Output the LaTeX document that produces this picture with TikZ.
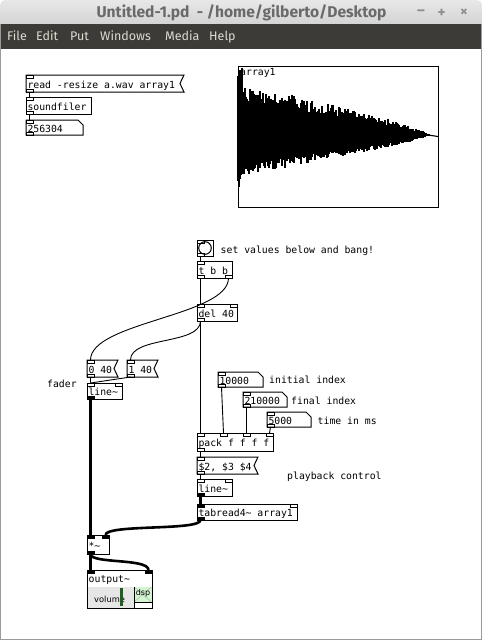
\documentclass[tikz,border=0pt]{standalone}
\usepackage{fontspec}
\setmonofont{DejaVu Sans Mono}
\newfontfamily\uifont{Fira Sans}
\newfontfamily\guifont{DejaVu Sans}
\usetikzlibrary{scopes}

\definecolor{titletop}{HTML}{E8E8E8}
\definecolor{titlebot}{HTML}{D4D4D4}
\definecolor{titletext}{HTML}{6A6A6A}
\definecolor{winctl}{HTML}{8E8E8E}
\definecolor{menubar}{HTML}{3C3B37}
\definecolor{menutext}{HTML}{DFDBD2}
\definecolor{winborder}{HTML}{9A9A9A}
\definecolor{volbg}{HTML}{E6E6E6}
\definecolor{volbar}{HTML}{1F5F1F}
\definecolor{dspbg}{HTML}{D4F4D4}
\definecolor{dspx}{HTML}{A8CCA8}

\newcommand\pdfont{\ttfamily\fontsize{9.8}{11}\selectfont}

\tikzset{
  pdobj/.style={rectangle, anchor=north west, inner xsep=1.5pt, inner ysep=0pt,
    outer sep=0pt, minimum height=17pt, text height=9pt, text depth=0pt,
    align=left, font=\pdfont,
    execute at begin node={\spaceskip=0pt\xspaceskip=0pt\relax}},
  pdbox/.style={pdobj, draw, line width=1pt},
  pdatom/.style={pdobj, minimum height=15pt},
  outline/.style={line width=1pt, line join=miter},
  port/.style={draw, line width=.8pt},
  sigport/.style={draw, fill=black, line width=.8pt},
  cord/.style={line width=.9pt},
  sigcord/.style={line width=2.6pt},
  comment/.style={anchor=base west, inner sep=0pt, font=\pdfont},
  menuitem/.style={anchor=base west, inner sep=0pt, text=menutext,
    font=\uifont\fontsize{12.5}{14}\selectfont},
  wave/.style={line width=1.1pt},
}

% message box and number box outlines
\newcommand\msgflag[1]{\draw[outline] (#1.north west) -- ([xshift=4pt]#1.north east)
  -- (#1.east) -- ([xshift=4pt]#1.south east) -- (#1.south west) -- cycle;}
\newcommand\atomflag[1]{\draw[outline] (#1.north west) -- ([xshift=-5pt]#1.north east)
  -- ([yshift=-5pt]#1.north east) -- (#1.south east) -- (#1.south west) -- cycle;}

% inlets and outlets
\newcommand\inL[2][port]{\draw[#1] (#2.north west) rectangle ++(7,3);}
\newcommand\inR[2][port]{\draw[#1] (#2.north east) rectangle ++(-7,3);}
\newcommand\outL[2][port]{\draw[#1] (#2.south west) rectangle ++(7,-3);}
\newcommand\outR[2][port]{\draw[#1] (#2.south east) rectangle ++(-7,-3);}

\begin{document}
\begin{tikzpicture}[x=1pt,y=-1pt]
\useasboundingbox (0,0) rectangle (482,640);

% window
\fill[white] (0,24) rectangle (482,640);
\shade[top color=titletop, bottom color=titlebot]
  (0,24) {[rounded corners=5pt] -- (0,0) -- (482,0)} -- (482,24) -- cycle;
\fill[menubar] (0,24) rectangle (482,49);
\draw[winborder, line width=1.2pt] (0.6,24) -- (0.6,639.4) -- (481.4,639.4) -- (481.4,24);

\node[anchor=base, inner sep=0pt, text=titletext,
  font=\uifont\bfseries\fontsize{15.6}{17}\selectfont] (title) at (241.5,17.7)
  {Untitled-1.pd\ \ - /home/gilberto/Desktop};
{ [inner sep=0pt, text=winctl, font=\uifont\bfseries\fontsize{15}{16}\selectfont]
  \node (wmin) at (421,13) {–};
  \node (wmax) at (441.5,13) {+};
  \node (wclose) at (464,13) {×};
}
{ [menuitem]
  \node (mfile) at (7,40.5) {File};
  \node (medit) at (36,40.5) {Edit};
  \node (mput) at (70,40.5) {Put};
  \node (mwin) at (100,40.5) {Windows};
  \node (mmedia) at (165,40.5) {Media};
  \node (mhelp) at (209,40.5) {Help};
}

% soundfile loading
\node[pdobj, text width=151pt] (readmsg) at (26,75) {read -resize a.wav array1};
\node[pdbox, text width=62pt] (sfiler) at (26,97) {soundfiler};
\node[pdatom, text width=54pt] (sfout) at (26,120) {256304};
\msgflag{readmsg}
\atomflag{sfout}

% array
\node[draw, line width=1pt, rectangle, anchor=north west, outer sep=0pt,
  minimum width=200pt, minimum height=141pt] (arr) at (238,66) {};
\pgfmathsetseed{42}
\foreach \x in {238,...,429} {
  \pgfmathsetmacro\up{(42+14*(\x<243))*(1-(\x-238)/192)^0.8*(1+0.25*rand)}
  \pgfmathsetmacro\dn{(34+18*(\x<241))*(1-(\x-238)/192)^0.8*(1+0.2*rand)}
  \draw[wave] (\x,135-\up) -- (\x,135+\dn);
}
\draw[wave] (428,135) -- (arr.east);
\node[comment] (arrlbl) at (240,75.5) {array1};

% trigger part
\node[pdbox, minimum width=16pt, minimum height=16pt] (bng) at (197,240) {};
\draw[line width=1pt] (bng.center) circle[radius=6.3pt];
\node[pdbox, text width=32pt] (tbb) at (197,261) {t b b};
\node[pdbox, text width=37pt] (del) at (197,304) {del 40};
\node[comment] (cbang) at (220.5,253) {set values below and bang!};

% fader
\node[pdobj, text width=24pt] (msgzero) at (87,360) {0 40};
\node[pdobj, text width=24pt] (msgone) at (127,360) {1 40};
\node[pdbox, text width=32pt, minimum height=16pt] (linel) at (87,383) {line\textasciitilde};
\msgflag{msgzero}
\msgflag{msgone}
\node[comment] (cfader) at (47,387) {fader};

% playback
\node[pdatom, text width=42pt] (numinit) at (218,372) {10000};
\node[pdatom, text width=41pt] (numfinal) at (243,392) {210000};
\node[pdatom, text width=41pt] (numtime) at (267,412) {5000};
\atomflag{numinit}
\atomflag{numfinal}
\atomflag{numtime}
\node[comment] (cinit) at (269,383) {initial index};
\node[comment] (cfinal) at (291,404) {final index};
\node[comment] (ctime) at (317.5,424) {time in ms};

\node[pdbox, text width=73pt, minimum height=18pt] (pack) at (197,433) {pack f f f f};
\node[pdobj, text width=54pt] (msgramp) at (197,457) {\$2, \$3 \$4};
\msgflag{msgramp}
\node[pdbox, text width=32pt] (liner) at (197,479) {line\textasciitilde};
\node[pdbox, text width=97pt, minimum height=16pt] (tabrd) at (197,504) {tabread4\textasciitilde{} array1};
\node[comment] (cplay) at (287,479) {playback control};

% output
\node[pdbox, text width=19pt, minimum height=19pt] (mult) at (87,535) {*\textasciitilde};
\node[pdbox, minimum width=65pt, minimum height=38pt] (output) at (87,570) {};
\fill[volbg] (87.5,587) rectangle (134,607.5);
\node[anchor=base west, inner sep=0pt, font=\guifont\fontsize{8.3}{9}\selectfont]
  (volume) at (94,602) {volume};
\fill[volbar] (120,588) rectangle (123,606);
\fill[dspbg] (134,587) rectangle (151.5,602);
\draw[dspx, line width=.6pt] (134,587) -- (151.5,602) (134,602) -- (151.5,587);
\node[inner sep=0pt, font=\guifont\fontsize{8}{9}\selectfont] (dsp) at (143,593.5) {dsp};
\draw[line width=1pt] (134,587) -- (134,608) (134,602) -- (152,602);
\node[comment] (outlbl) at (88.5,582) {output\textasciitilde};

% inlets / outlets
\inL{readmsg} \outL{readmsg}
\inL{sfiler} \outL{sfiler}
\inL{sfout} \outL{sfout}
\inL{bng} \outL{bng}
\inL{tbb} \outL{tbb} \outR{tbb}
\inL{del} \inR{del} \outL{del}
\inL{msgzero} \outL{msgzero}
\inL{msgone} \outL{msgone}
\inL{linel} \inR{linel} \outL[sigport]{linel}
\inL{numinit} \outL{numinit}
\inL{numfinal} \outL{numfinal}
\inL{numtime} \outL{numtime}
\inL{pack} \inR{pack} \outL{pack}
\draw[port] ([xshift=23pt]pack.north west) rectangle ++(7,3);
\draw[port] ([xshift=46pt]pack.north west) rectangle ++(7,3);
\inL{msgramp} \outL{msgramp}
\inL{liner} \inR{liner} \outL[sigport]{liner}
\inL[sigport]{tabrd} \inR{tabrd} \outL[sigport]{tabrd}
\inL[sigport]{mult} \inR[sigport]{mult} \outL[sigport]{mult}
\inL[sigport]{output} \inR[sigport]{output}

% connections
{ [cord]
  \draw ([xshift=3.5pt]readmsg.south west) -- ([xshift=3.5pt]sfiler.north west);
  \draw ([xshift=3.5pt]sfiler.south west) -- ([xshift=3.5pt]sfout.north west);
  \draw ([xshift=3.5pt]bng.south west) -- ([xshift=3.5pt]tbb.north west);
  \draw ([xshift=3.5pt]tbb.south west) -- ([xshift=3.5pt]del.north west);
  \draw ([xshift=-3.5pt]tbb.south east) .. controls +(0,38) and +(0,-38) .. ([xshift=3.5pt]msgzero.north west);
  \draw ([xshift=3.5pt]del.south west) .. controls +(0,24) and +(0,-24) .. ([xshift=3.5pt]msgone.north west);
  \draw ([xshift=3.5pt]del.south west) -- ([xshift=3.5pt]pack.north west);
  \draw ([xshift=3.5pt]msgzero.south west) -- ([xshift=3.5pt]linel.north west);
  \draw ([xshift=3.5pt]msgone.south west) -- ([xshift=3.5pt]linel.north west);
  \draw ([xshift=3.5pt]numinit.south west) -- ([xshift=26.5pt]pack.north west);
  \draw ([xshift=3.5pt]numfinal.south west) -- ([xshift=49.5pt]pack.north west);
  \draw ([xshift=3.5pt]numtime.south west) -- ([xshift=-3.5pt]pack.north east);
  \draw ([xshift=3.5pt]pack.south west) -- ([xshift=3.5pt]msgramp.north west);
  \draw ([xshift=3.5pt]msgramp.south west) -- ([xshift=3.5pt]liner.north west);
}
{ [sigcord]
  \draw ([xshift=3.5pt]liner.south west) -- ([xshift=3.5pt]tabrd.north west);
  \draw ([xshift=3.5pt]tabrd.south west) .. controls +(0,11) and +(0,-11) .. ([xshift=-3.5pt]mult.north east);
  \draw ([xshift=3.5pt]linel.south west) -- ([xshift=3.5pt]mult.north west);
  \draw ([xshift=3.5pt]mult.south west) -- ([xshift=3.5pt]output.north west);
  \draw ([xshift=3.5pt]mult.south west) .. controls +(0,10) and +(0,-12) .. ([xshift=-3.5pt]output.north east);
}
\end{tikzpicture}
\end{document}
